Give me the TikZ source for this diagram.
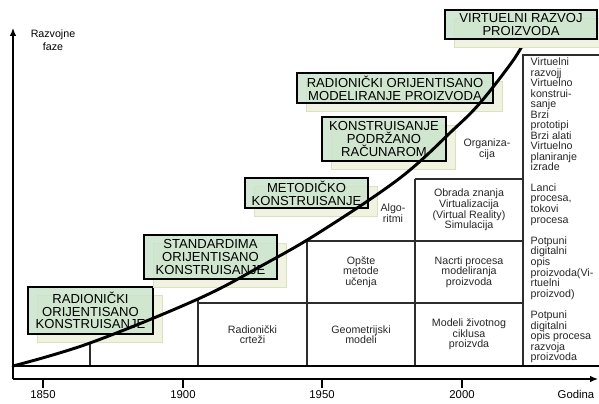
\documentclass[tikz,border=0pt]{standalone}
\usepackage{fontspec}
\setmainfont{Liberation Sans}
\usetikzlibrary{arrows.meta,shadows}
\tikzset{>={Latex[width=5pt,length=6pt]}}

\definecolor{phasegreen}{RGB}{203,228,204}
\definecolor{shadegreen}{RGB}{240,243,226}
\definecolor{shadeline}{RGB}{218,226,188}
\definecolor{gridgray}{RGB}{45,45,45}

\tikzset{
  phase/.style={draw, line width=1.4pt, fill=phasegreen, fill opacity=0.85,
    text opacity=1, inner sep=0pt, align=center,
    font=\fontsize{9.8}{9.6}\selectfont,
    drop shadow={shadow xshift=7pt, shadow yshift=-6pt, fill=shadegreen,
      draw=shadeline, line width=0.6pt, opacity=1}},
  cell/.style={align=center, font=\fontsize{8}{7.9}\selectfont, text=black!85},
  side/.style={anchor=west, align=left, font=\fontsize{8}{7.9}\selectfont,
    text=black!85},
  year/.style={font=\fontsize{8.5}{10}\selectfont},
}

\begin{document}
\begin{tikzpicture}[x=0.75pt, y=-0.75pt]
  \useasboundingbox (0,0) rectangle (599,403);

  %% table under the curve
  \draw[gridgray, line width=0.8pt]
    (90,366) -- (90,343)
    (198,366) -- (198,299)
    (307,366) -- (307,240)
    (415,366) -- (415,179)
    (198,303) -- (523,303)
    (307,241) -- (523,241)
    (415,179) -- (523,179)
    (523,366) -- (523,55) -- (599,55);
  \draw[line width=1.2pt] (13,366) -- (599,366);

  %% cells
  \node[cell] (crt) at (252.5,334.5) {Radionički\\crteži};
  \node[cell] (geo) at (361,334.5) {Geometrijski\\modeli};
  \node[cell] (ciklus) at (469,334.5) {Modeli životnog\\ciklusa\\proizvda};
  \node[cell] (metode) at (361,272) {Opšte\\metode\\učenja};
  \node[cell] (nacrti) at (469,272) {Nacrti procesa\\modeliranja\\proizvoda};
  \node[cell] (algo) at (393,213) {Algo-\\ritmi};
  \node[cell] (znanje) at (469,210) {Obrada znanja\\Virtualizacija\\(Virtual Reality)\\Simulacija};
  \node[cell] (org) at (487,149) {Organiza-\\cija};

  %% right column
  \node[side] (virtlist) at (526,114.5) {Virtuelni\\razvojj\\Virtuelno\\konstrui-\\sanje\\Brzi\\prototipi\\Brzi alati\\Virtuelno\\planiranje\\izrade};
  \node[side] (lanci) at (526,204.5) {Lanci\\procesa,\\tokovi\\procesa};
  \node[side] (opisp) at (526,268) {Potpuni\\digitalni\\opis\\proizvoda(Vi-\\rtuelni\\proizvod)};
  \node[side] (opisr) at (526,337) {Potpuni\\digitalni\\opis procesa\\razvoja\\proizvoda};

  %% axes
  \coordinate (origin) at (13,379);
  \coordinate (ytip) at (13,28);
  \coordinate (xtip) at (598,379);
  \draw[line width=1pt, ->] (origin) -- (ytip);
  \draw[line width=1pt, ->] (origin) -- (xtip);
  \foreach \x/\yr in {43/1850, 183/1900, 322/1950, 462/2000} {
    \draw[line width=0.8pt] (\x,379) -- (\x,388);
    \node[year] (y\yr) at (\x,395) {\yr};
  }
  \node[year] (godina) at (576,394) {Godina};
  \node[font=\fontsize{8}{9.5}\selectfont, align=center] (faze) at (53,40.5) {Razvojne\\faze};

  %% phases
  \node[phase, minimum width=93.75pt, minimum height=35.25pt] (radko) at (90.5,310.5)
    {RADIONIČKI\\ORIJENTISANO\\KONSTRUISANJE};
  \node[phase, minimum width=99.75pt, minimum height=33pt] (stdko) at (210.5,257)
    {STANDARDIMA\\ORIJENTISANO\\KONSTRUISANJE};
  \node[phase, minimum width=92.25pt, minimum height=22.5pt] (metko) at (306.5,193)
    {METODIČKO\\KONSTRUISANJE};
  \node[phase, minimum width=93pt, minimum height=33pt] (kpr) at (384,139)
    {KONSTRUISANJE\\PODRŽANO\\RAČUNAROM};
  \node[phase, minimum width=147pt, minimum height=22.5pt] (radmod) at (395,88)
    {RADIONIČKI ORIJENTISANO\\MODELIRANJE PROIZVODA};

  %% growth curve
  \draw[line width=2.2pt, line cap=round] plot[smooth, tension=0.6] coordinates
    {(13,366) (90,343) (198,299) (263,265) (320,232) (400,178) (453,130)
     (480,103) (512,62) (526,39)};

  \node[phase, minimum width=114pt, minimum height=21.75pt] (virt) at (521,24.5)
    {VIRTUELNI RAZVOJ\\PROIZVODA};
\end{tikzpicture}
\end{document}
